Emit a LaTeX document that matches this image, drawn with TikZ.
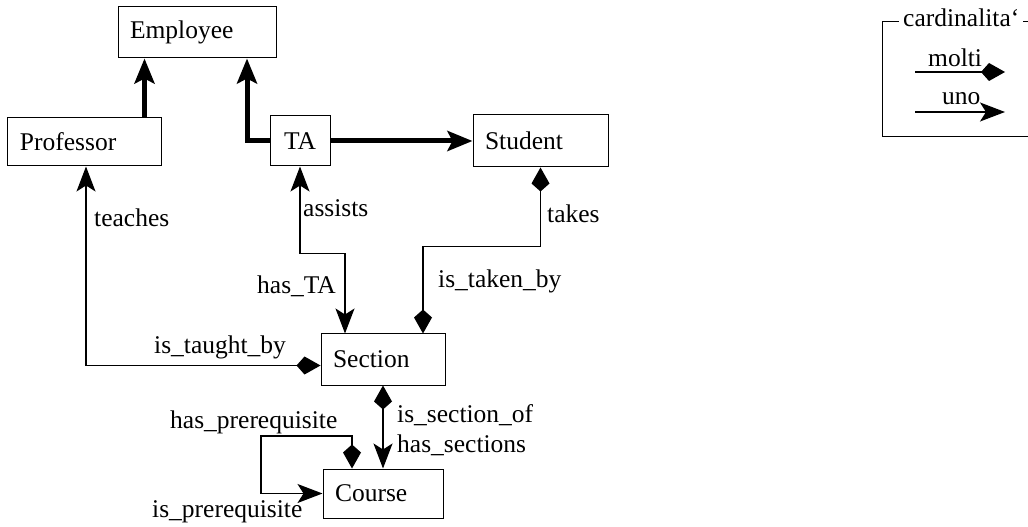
\documentclass[tikz,border=0pt]{standalone}
\usepackage{fontspec}
\setmainfont{Liberation Serif}
\usetikzlibrary{arrows.meta}
\tikzset{
  uno/.tip={Stealth[length=25bp,width=19bp,inset=6bp]},
  molti/.tip={Kite[length=24bp,width=18bp,inset=8bp]},
}
\begin{document}
\begin{tikzpicture}[x=1bp,y=-1bp,
  every node/.style={font=\fontsize{25.5bp}{29bp}\selectfont},
  entity/.style={draw, line width=1bp, inner xsep=12bp, inner ysep=0bp, align=left},
  lbl/.style={inner sep=0pt, anchor=base west},
  rel/.style={line width=1.2bp},
  isa/.style={line width=5bp, -{Stealth[length=25bp,width=20bp,inset=5bp]}},
]
\useasboundingbox (0,0) rectangle (1028,527);

% entities
\node[entity, text width=134bp, minimum height=51bp] (emp) at (197,32.5) {Employee};
\node[entity, text width=129bp, minimum height=48bp] (prof) at (84.5,142) {Professor};
\node[entity, text width=36bp, align=center, minimum height=50bp] (ta) at (300,141) {TA};
\node[entity, text width=111bp, minimum height=52bp] (stu) at (540.5,141) {Student};
\node[entity, text width=100bp, minimum height=51bp] (sec) at (383,359.5) {Section};
\node[entity, text width=96bp, minimum height=49bp] (crs) at (383,493.5) {Course};

% isa
\coordinate (p1) at ([xshift=60bp]prof.north);
\draw[isa] (p1) -- (p1 |- emp.south);
\coordinate (e2) at ([xshift=50bp]emp.south);
\draw[isa] (ta.west) -| (e2);
\draw[isa] (ta.east) -- (stu.west);

% relations
\coordinate (p2) at ([xshift=1.5bp]prof.south);
\coordinate (s1) at ([yshift=-6bp]sec.west);
\draw[rel, uno-molti] (p2) |- (s1);

\coordinate (s2) at ([xshift=-38bp]sec.north);
\draw[rel, uno-uno] (ta.south) -- ++(0,87) -| (s2);

\coordinate (s3) at ([xshift=40bp]sec.north);
\draw[rel, molti-molti] (stu.south) -- ++(0,79) -| (s3);

\draw[rel, molti-uno] (sec.south) -- (crs.north);

\coordinate (c1) at ([xshift=-31bp]crs.north);
\coordinate (lp) at (261,436);
\draw[rel, molti-uno] (c1) |- (lp) |- (crs.west);

% labels
\node[lbl] (l1) at (94,227) {teaches};
\node[lbl] (l2) at (154,354) {is\_taught\_by};
\node[lbl] (l3) at (303,217) {assists};
\node[lbl] (l4) at (257,294) {has\_TA};
\node[lbl] (l5) at (547,223) {takes};
\node[lbl] (l6) at (438,288) {is\_taken\_by};
\node[lbl] (l7) at (397,422) {is\_section\_of};
\node[lbl] (l8) at (397,452) {has\_sections};
\node[lbl] (l9) at (170,428) {has\_prerequisite};
\node[lbl] (l10) at (152,517) {is\_prerequisite};

% legend
\draw[line width=1bp] (1040,22) -- (882,22) -- (882,137) -- (1040,137);
\node[fill=white, inner xsep=4bp, inner ysep=0bp, anchor=base west] (card) at (899,27) {cardinalita‘};
\coordinate (m0) at (915,72);
\coordinate (m1) at (1005,72);
\draw[rel, -molti] (m0) -- (m1);
\node[lbl] (lm) at (928,67) {molti};
\coordinate (u0) at (915,112);
\coordinate (u1) at (1005,112);
\draw[rel, -uno] (u0) -- (u1);
\node[lbl] (lu) at (942,105) {uno};
\end{tikzpicture}
\end{document}
